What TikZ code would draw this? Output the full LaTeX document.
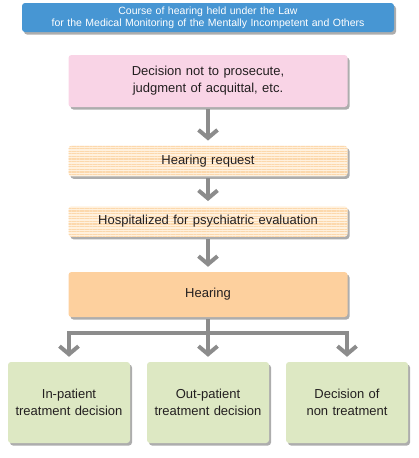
\documentclass[tikz,border=0pt]{standalone}
\usepackage{fontspec}
\setmainfont{Liberation Sans}
\usetikzlibrary{arrows.meta,shadows,patterns.meta}
\definecolor{titleblue}{HTML}{4796D3}
\definecolor{pinkfill}{HTML}{F9D4E6}
\definecolor{creamfill}{HTML}{FFF1DE}
\definecolor{stripe}{HTML}{FCD8AC}
\definecolor{hearfill}{HTML}{FDD09E}
\definecolor{greenfill}{HTML}{DDE8C3}
\definecolor{arrowgray}{HTML}{8C8C8C}
\definecolor{shadowgray}{HTML}{ADADAD}
\definecolor{textgray}{HTML}{231F20}
\tikzstyle{boxbase} = [rectangle, rounded corners=3pt, text centered, text=textgray, font=\fontsize{13}{17}\selectfont, drop shadow={shadow xshift=2pt, shadow yshift=-2.5pt, fill=shadowgray, opacity=1}]
\tikzstyle{titlebox} = [boxbase, minimum width=372pt, minimum height=29pt, text width=365pt, fill=titleblue, text=white, font=\fontsize{10.5}{11.7}\selectfont]
\tikzstyle{startbox} = [boxbase, minimum width=279pt, minimum height=52pt, text width=270pt, fill=pinkfill]
\tikzstyle{stripebox} = [boxbase, minimum width=279pt, minimum height=30.5pt, text width=270pt, fill=creamfill, postaction={pattern={Lines[angle=0,distance=2.6pt,line width=1.2pt]}, pattern color=stripe}]
\tikzstyle{hearbox} = [boxbase, minimum width=279pt, minimum height=45pt, text width=270pt, fill=hearfill]
\tikzstyle{resultbox} = [boxbase, minimum width=122pt, minimum height=81pt, text width=115pt, fill=greenfill]
\tikzstyle{arrow} = [draw=arrowgray, line width=4pt, -{Straight Barb[length=8pt,width=19pt]}, shorten <=2pt, shorten >=5pt]

\begin{document}
\begin{tikzpicture}[x=1pt, y=1pt, node distance = 60pt]
\useasboundingbox (0,0) rectangle (419,-458);

\node(title) [titlebox] at (208,-17.5) {Course of hearing held under the Law\\for the Medical Monitoring of the Mentally Incompetent and Others};
\node(decision) [startbox, below of = title, yshift=-3.5pt] {Decision not to prosecute,\\judgment of acquittal, etc.};
\node(request) [stripebox, below of = decision, yshift=-20pt] {Hearing request};
\node(hospital) [stripebox, below of = request, yshift=-0.5pt] {Hospitalized for psychiatric evaluation};
\node(hearing) [hearbox, below of = hospital, yshift=-13pt] {Hearing};
\node(outpat) [resultbox, below of = hearing, yshift=-48pt] {Out-patient\\treatment decision};
\node(inpat) [resultbox, left of = outpat, xshift=-79pt] {In-patient\\treatment decision};
\node(nontreat) [resultbox, right of = outpat, xshift=79pt] {Decision of\\non treatment};
\coordinate(split) at ([yshift=-16pt]hearing.south);

\draw [arrow] (decision) -- (request);
\draw [arrow] (request) -- (hospital);
\draw [arrow] (hospital) -- (hearing);
\draw [arrow] (hearing) -- (outpat);
\draw [arrow, shorten <=0pt] (split) -| (inpat);
\draw [arrow, shorten <=0pt] (split) -| (nontreat);

\end{tikzpicture}
\end{document}
